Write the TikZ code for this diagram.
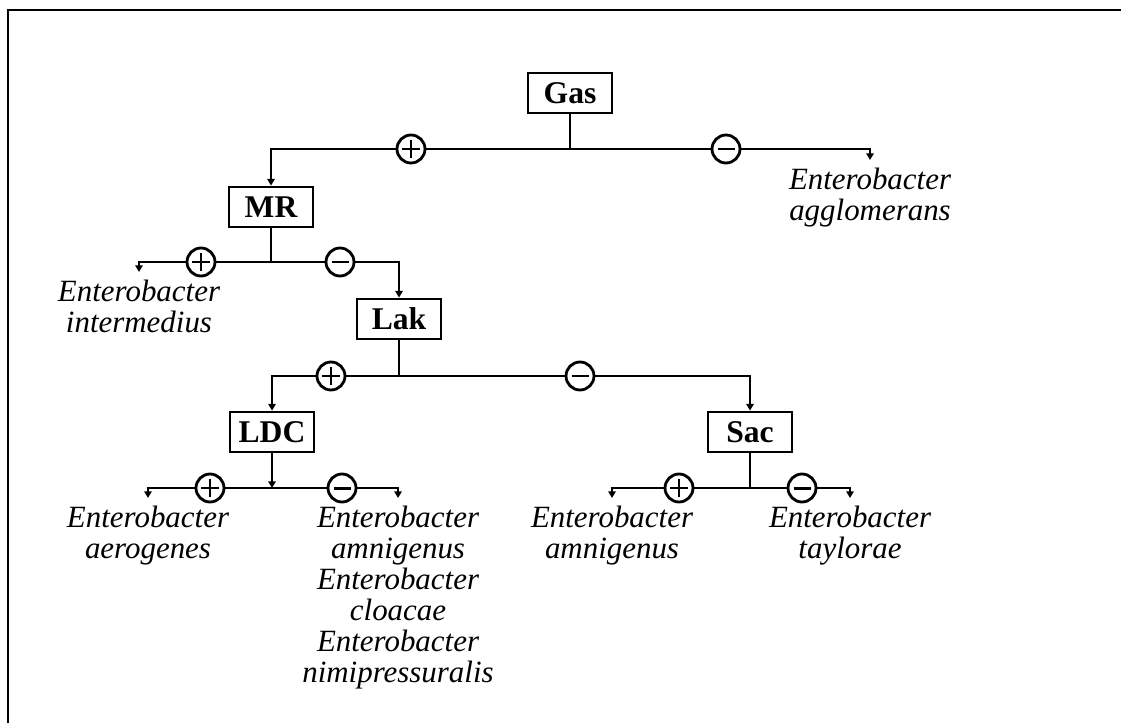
\documentclass[tikz,border=0pt]{standalone}
\usepackage{fontspec}
\setmainfont{Liberation Serif}
\usetikzlibrary{arrows.meta}

\begin{document}
\begin{tikzpicture}[x=0.02cm,y=-0.02cm,line width=1.6pt,
  box/.style={draw,minimum width=1.68cm,minimum height=0.8cm,inner sep=0pt,font=\fontsize{18}{20}\selectfont\bfseries},
  sgn/.style={draw,circle,fill=white,minimum size=0.56cm,inner sep=0pt},
  plus/.style={sgn,path picture={
    \draw[line width=1.1pt] ([xshift=-0.18cm]path picture bounding box.center) -- ++(0.36cm,0);
    \draw[line width=1.1pt] ([yshift=-0.18cm]path picture bounding box.center) -- ++(0,0.36cm);}},
  minus/.style={sgn,path picture={
    \draw[line width=1.7pt] ([xshift=-0.17cm]path picture bounding box.center) -- ++(0.34cm,0);}},
  lab/.style={anchor=north,align=center,inner sep=0.14cm,font=\fontsize{17.6}{17.6}\selectfont\itshape},
  a/.style={-{Triangle[length=3.8pt,width=4.2pt]}}]
  \useasboundingbox (0,0) rectangle (1121,723);
  \draw (8,723) -- (8,10) -- (1121,10);
  % tests
  \node[box] (gas) at (570,93) {Gas};
  \node[box] (mr) at (271,207) {MR};
  \node[box] (lak) at (399,319) {Lak};
  \node[box] (ldc) at (272,432) {LDC};
  \node[box] (sac) at (750,432) {Sac};
  % junctions
  \coordinate (gasJ) at (570,149);
  \coordinate (mrJ) at (271,262);
  \coordinate (lakJ) at (399,376);
  \coordinate (ldcJ) at (272,488);
  \coordinate (sacJ) at (750,488);
  % signs
  \node[plus] (gasP) at (411,149) {};
  \node[minus] (gasM) at (726,149) {};
  \node[plus] (mrP) at (201,262) {};
  \node[minus] (mrM) at (340,262) {};
  \node[plus] (lakP) at (331,376) {};
  \node[minus] (lakM) at (580,376) {};
  \node[plus] (ldcP) at (210,488) {};
  \node[minus] (ldcM) at (342,488) {};
  \node[plus] (sacP) at (679,488) {};
  \node[minus] (sacM) at (802,488) {};
  % species
  \node[lab] (agg) at (870,160) {Enterobacter\\agglomerans};
  \node[lab] (inter) at (139,272) {Enterobacter\\intermedius};
  \node[lab] (aero) at (148,498) {Enterobacter\\aerogenes};
  \node[lab] (clo) at (398,498) {Enterobacter\\amnigenus\\Enterobacter\\cloacae\\Enterobacter\\nimipressuralis};
  \node[lab] (amni) at (612,498) {Enterobacter\\amnigenus};
  \node[lab] (tay) at (850,498) {Enterobacter\\taylorae};
  % links
  \draw (gas) -- (gasJ) -- (gasP);
  \draw (gasJ) -- (gasM);
  \draw[a] (gasP) -| (mr);
  \draw[a] (gasM) -| (agg);
  \draw (mr) -- (mrJ) -- (mrP);
  \draw (mrJ) -- (mrM);
  \draw[a] (mrP) -| (inter);
  \draw[a] (mrM) -| (lak);
  \draw (lak) -- (lakJ) -- (lakP);
  \draw (lakJ) -- (lakM);
  \draw[a] (lakP) -| (ldc);
  \draw[a] (lakM) -| (sac);
  \draw[a] (ldc) -- (ldcJ);
  \draw (ldcJ) -- (ldcP);
  \draw (ldcJ) -- (ldcM);
  \draw[a] (ldcP) -| (aero);
  \draw[a] (ldcM) -| (clo);
  \draw (sac) -- (sacJ) -- (sacP);
  \draw (sacJ) -- (sacM);
  \draw[a] (sacP) -| (amni);
  \draw[a] (sacM) -| (tay);
\end{tikzpicture}
\end{document}
